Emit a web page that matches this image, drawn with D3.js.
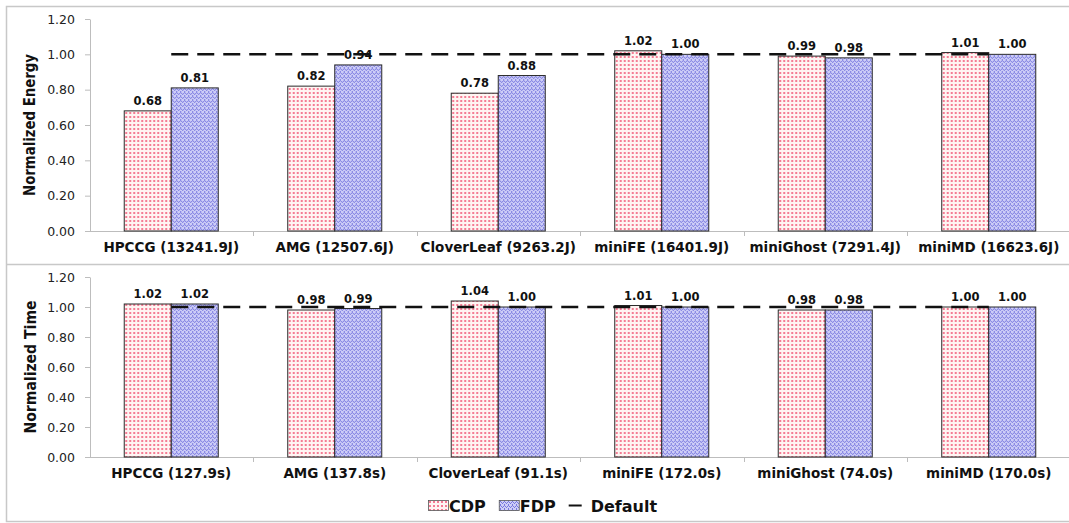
<!DOCTYPE html>
<html>
<head>
<meta charset="utf-8">
<script src="https://cdn.jsdelivr.net/npm/d3@7"></script>
<style>
  body { margin: 0; background: #fff; }
  svg { display: block; }
</style>
</head>
<body>
<script>
// chart data
var series = ["CDP", "FDP"];
var energyCats = ["HPCCG (13241.9J)", "AMG (12507.6J)", "CloverLeaf (9263.2J)", "miniFE (16401.9J)", "miniGhost (7291.4J)", "miniMD (16623.6J)"];
var timeCats = ["HPCCG (127.9s)", "AMG (137.8s)", "CloverLeaf (91.1s)", "miniFE (172.0s)", "miniGhost (74.0s)", "miniMD (170.0s)"];
var energyCDP = [0.68, 0.82, 0.78, 1.02, 0.99, 1.01];
var energyFDP = [0.81, 0.94, 0.88, 1.00, 0.98, 1.00];
var timeCDP = [1.02, 0.98, 1.04, 1.01, 0.98, 1.00];
var timeFDP = [1.02, 0.99, 1.00, 1.00, 0.98, 1.00];
var yTicks = [0, 0.2, 0.4, 0.6, 0.8, 1.0, 1.2];
var defaultLevel = 1.0;

var W = 1069, H = 523;

var svg = d3.select("body").append("svg")
    .attr("width", W)
    .attr("height", H);

// fill patterns
var defs = svg.append("defs");
var pCDP = defs.append("pattern")
    .attr("id", "pat-cdp")
    .attr("patternUnits", "userSpaceOnUse")
    .attr("width", 4).attr("height", 4);
pCDP.append("rect").attr("width", 4).attr("height", 4).attr("fill", "#fff4f2");
pCDP.append("rect").attr("x", 1).attr("y", 0).attr("width", 2).attr("height", 2).attr("fill", "#f47c94");

var pFDP = defs.append("pattern")
    .attr("id", "pat-fdp")
    .attr("patternUnits", "userSpaceOnUse")
    .attr("width", 4).attr("height", 4);
pFDP.append("rect").attr("width", 4).attr("height", 4).attr("fill", "#cdcdf7");
[[0, 0], [1, 1], [2, 2], [3, 1], [0, 3]].forEach(function(p) {
    pFDP.append("rect").attr("x", p[0]).attr("y", p[1])
        .attr("width", 1).attr("height", 1).attr("fill", "#7676de");
});

var fills = { CDP: "url(#pat-cdp)", FDP: "url(#pat-fdp)" };

// outer frame and divider
svg.append("rect")
    .attr("x", 6.5).attr("y", 6.5)
    .attr("width", W + 20).attr("height", 515)
    .attr("fill", "none").attr("stroke", "#c8c8c8").attr("stroke-width", 1.5);
svg.append("line")
    .attr("x1", 6.5).attr("x2", W)
    .attr("y1", 264.5).attr("y2", 264.5)
    .attr("stroke", "#c8c8c8").attr("stroke-width", 1.5);

function drawPanel(opts) {
    var x0 = d3.scaleBand()
        .domain(opts.cats)
        .range([89.5, 1070.5])
        .paddingInner(0.425)
        .paddingOuter(0.2125);
    var x1 = d3.scaleBand()
        .domain(series)
        .range([0, x0.bandwidth()]);
    var y = d3.scaleLinear().domain([0, 1.2]).range([opts.bottom, opts.top]);

    var g = svg.append("g");

    // y axis
    var ya = g.append("g")
        .attr("transform", "translate(90,0)")
        .call(d3.axisLeft(y).tickValues(yTicks).tickFormat(d3.format(".2f")).tickSize(5).tickSizeOuter(0));
    ya.select(".domain").attr("stroke", "#bdbdbd");
    ya.selectAll(".tick line").attr("stroke", "#bdbdbd");
    ya.selectAll(".tick text")
        .attr("x", -15)
        .attr("fill", "#222")
        .style("font-family", "DejaVu Sans, Verdana, sans-serif")
        .style("font-size", "12.5px");

    // x axis line + category separators
    g.append("line")
        .attr("x1", 90).attr("x2", W)
        .attr("y1", y(0) + 0.5).attr("y2", y(0) + 0.5)
        .attr("stroke", "#bdbdbd");
    opts.cats.slice(1).forEach(function(c) {
        var xs = Math.round(x0(c) - x0.step() * x0.paddingInner() / 2) + 0.5;
        g.append("line")
            .attr("x1", xs).attr("x2", xs)
            .attr("y1", y(0)).attr("y2", y(0) + 5)
            .attr("stroke", "#bdbdbd");
    });

    // category labels
    g.selectAll(".cat").data(opts.cats).enter().append("text")
        .attr("x", function(d) { return x0(d) + x0.bandwidth() / 2; })
        .attr("y", y(0) + 21)
        .attr("text-anchor", "middle")
        .style("font-family", "DejaVu Sans, Verdana, sans-serif")
        .style("font-weight", "bold")
        .style("font-size", "13.5px")
        .attr("fill", "#111")
        .text(function(d) { return d; });

    // bars
    var rows = opts.cats.map(function(c, i) {
        return { cat: c, values: [ { s: "CDP", v: opts.cdp[i] }, { s: "FDP", v: opts.fdp[i] } ] };
    });
    var grp = g.selectAll(".grp").data(rows).enter().append("g")
        .attr("transform", function(d) { return "translate(" + x0(d.cat) + ",0)"; });
    grp.selectAll("rect").data(function(d) { return d.values; }).enter().append("rect")
        .attr("x", function(d) { return x1(d.s); })
        .attr("y", function(d) { return y(d.v); })
        .attr("width", x1.bandwidth())
        .attr("height", function(d) { return y(0) - y(d.v); })
        .attr("fill", function(d) { return fills[d.s]; })
        .attr("stroke", "#2a2a2a")
        .attr("stroke-width", 1);

    // default line (center of first to center of last group)
    var first = opts.cats[0], last = opts.cats[opts.cats.length - 1];
    g.append("line")
        .attr("x1", x0(first) + x0.bandwidth() / 2)
        .attr("x2", x0(last) + x0.bandwidth() / 2)
        .attr("y1", y(defaultLevel)).attr("y2", y(defaultLevel))
        .attr("stroke", "#111")
        .attr("stroke-width", 2.5)
        .attr("stroke-dasharray", "17,9");

    // value labels
    grp.selectAll(".val").data(function(d) { return d.values; }).enter().append("text")
        .attr("x", function(d) { return x1(d.s) + x1.bandwidth() / 2; })
        .attr("y", function(d) { return y(d.v) - 6; })
        .attr("text-anchor", "middle")
        .style("font-family", "DejaVu Sans, Verdana, sans-serif")
        .style("font-weight", "bold")
        .style("font-size", "11.5px")
        .attr("fill", "#111")
        .text(function(d) { return d3.format(".2f")(d.v); });

    // y title
    var yc = (opts.top + opts.bottom) / 2;
    g.append("text")
        .attr("transform", "translate(" + opts.titleX + "," + yc + ") rotate(-90)")
        .attr("text-anchor", "middle")
        .style("font-family", "DejaVu Sans Condensed, Liberation Sans Narrow, Arial Narrow, sans-serif")
        .style("font-weight", "bold")
        .style("font-size", "16px")
        .attr("textLength", opts.titleLen)
        .attr("lengthAdjust", "spacingAndGlyphs")
        .attr("fill", "#111")
        .text(opts.title);
}

drawPanel({ cats: energyCats, cdp: energyCDP, fdp: energyFDP, top: 19, bottom: 231,
            title: "Normalized Energy", titleX: 35, titleLen: 142 });
drawPanel({ cats: timeCats, cdp: timeCDP, fdp: timeFDP, top: 277, bottom: 457,
            title: "Normalized Time", titleX: 36, titleLen: 133 });

// legend
var lg = svg.append("g").attr("transform", "translate(428,497)");
var lx = 0;
series.forEach(function(s) {
    lg.append("rect")
        .attr("x", lx + 0.5).attr("y", 3.5)
        .attr("width", 20).attr("height", 10)
        .attr("fill", fills[s])
        .attr("stroke", "#555").attr("stroke-width", 0.8);
    var t = lg.append("text")
        .attr("x", lx + 21).attr("y", 15)
        .style("font-family", "DejaVu Sans, Verdana, sans-serif")
        .style("font-weight", "bold")
        .style("font-size", "16px")
        .attr("fill", "#111")
        .text(s);
    lx += 21 + t.node().getComputedTextLength() + 13;
});
lg.append("line")
    .attr("x1", lx).attr("x2", lx + 13)
    .attr("y1", 8.5).attr("y2", 8.5)
    .attr("stroke", "#111").attr("stroke-width", 2);
lg.append("text")
    .attr("x", lx + 22).attr("y", 15)
    .style("font-family", "DejaVu Sans, Verdana, sans-serif")
    .style("font-weight", "bold")
    .style("font-size", "16px")
    .attr("fill", "#111")
    .text("Default");
</script>
</body>
</html>
